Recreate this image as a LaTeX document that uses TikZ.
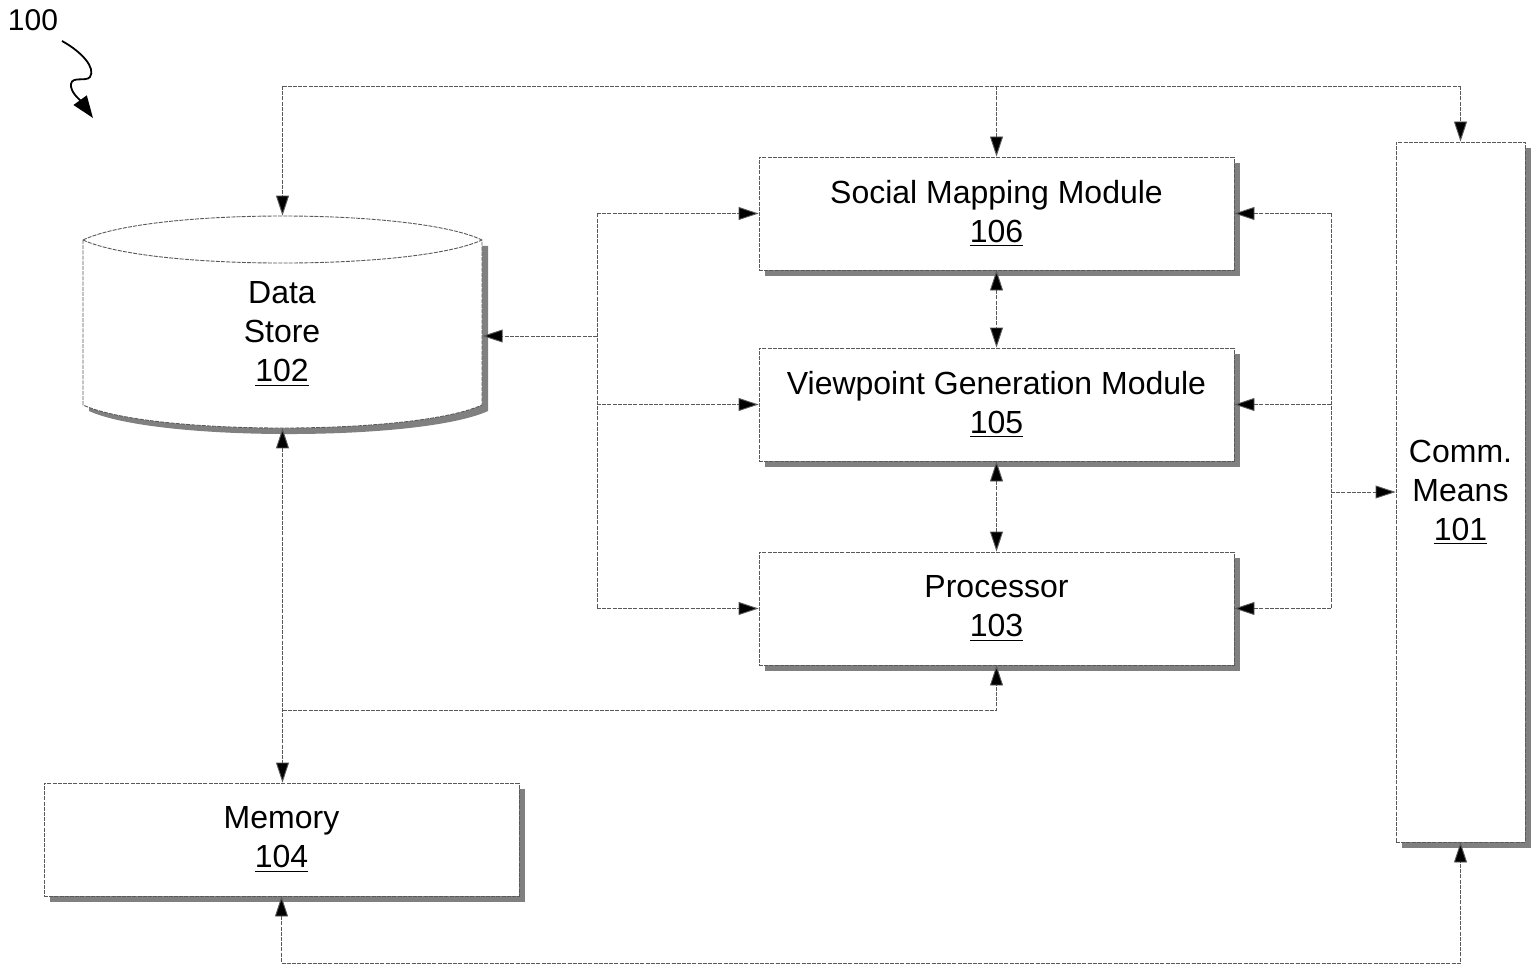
\documentclass[tikz,border=0pt]{standalone}
\usepackage{fontspec}
\setmainfont{Liberation Sans}
\usetikzlibrary{arrows.meta,shadows}
\begin{document}
\begin{tikzpicture}[x=0.5pt,y=-0.5pt,
  conn/.style={draw=black!65,line width=0.45pt,dash pattern=on 2pt off 0.6pt},
  arr/.style={conn,-{Triangle[length=10pt,width=6.5pt,fill=black]}},
  arrtwo/.style={conn,{Triangle[length=10pt,width=6.5pt,fill=black]}-{Triangle[length=10pt,width=6.5pt,fill=black]}},
  txt/.style={font=\fontsize{16}{19.5}\selectfont,align=center,text=black},
  blockbox/.style={txt,draw=black!65,line width=0.45pt,dash pattern=on 2pt off 0.6pt,fill=white,
     inner sep=0pt,drop shadow={shadow xshift=3pt,shadow yshift=-3pt,fill=black!50,opacity=1}},
]
\useasboundingbox[fill=white] (0,0) rectangle (1536,968);

% label 100
\node[txt,font=\fontsize{15}{18}\selectfont] (lbl) at (33,20) {100};
\draw[black,line width=0.9pt,-{Triangle[length=11pt,width=8pt]}]
  (62,41) .. controls (82,52) and (96,68) .. (90,77)
  .. controls (86,82) and (72,76) .. (71,84)
  .. controls (70,92) and (80,100) .. (93,118);

% data store cylinder
\node[minimum width=399.5pt/2,minimum height=212pt/2,inner sep=0pt] (ds) at (282.5,322) {};
\fill[black!50,xshift=3pt,yshift=-3pt] (83,240) -- (83,405) .. controls (150,435.7) and (415,435.7) .. (482,405) -- (482,240) -- cycle;
\path[conn,fill=white] (83,240) -- (83,405) .. controls (150,435.7) and (415,435.7) .. (482,405) -- (482,240)
  .. controls (415,208) and (150,208) .. (83,240) -- cycle;
\draw[conn] (83,240) .. controls (150,270.7) and (415,270.7) .. (482,240);
\node[txt] (dslabel) at (282,334) {Data\\Store\\\underline{102}};

% blocks
\node[blockbox,minimum width=475pt/2,minimum height=113pt/2] (smm) at (996.5,213.5) {Social Mapping Module\\\underline{106}};
\node[blockbox,minimum width=475pt/2,minimum height=113pt/2] (vgm) at (996.5,404.5) {Viewpoint Generation Module\\\underline{105}};
\node[blockbox,minimum width=475pt/2,minimum height=113pt/2] (proc) at (996.5,608.5) {Processor\\\underline{103}};
\node[blockbox,minimum width=129pt/2,minimum height=700pt/2] (comm) at (1460.5,492) {Comm.\\Means\\\underline{101}};
\node[blockbox,minimum width=475pt/2,minimum height=113pt/2] (mem) at (281.5,839.5) {Memory\\\underline{104}};

% top bus
\coordinate (tl) at (282.5,86);
\coordinate (tr) at (1460.5,86);
\draw[conn] (tl) -- (tr);
\draw[arr] (tl) -- (ds.north);
\draw[arr] (tl -| smm.north) -- (smm.north);
\draw[arr] (tr) -- (comm.north);

% left bus
\coordinate (lbt) at (597,213.5);
\coordinate (lbb) at (597,608.5);
\coordinate (lbm) at (597,336);
\draw[conn] (lbt) -- (lbb);
\draw[arr] (lbt) -- (smm.west);
\draw[arr] (lbt |- vgm.west) -- (vgm.west);
\draw[arr] (lbb) -- (proc.west);
\draw[arr] (lbm) -- (lbm -| ds.east);

% right bus
\coordinate (rbt) at (1331,213.5);
\coordinate (rbb) at (1331,608.5);
\draw[conn] (rbt) -- (rbb);
\draw[arr] (rbt) -- (smm.east);
\draw[arr] (rbt |- vgm.east) -- (vgm.east);
\draw[arr] (rbb) -- (proc.east);
\draw[arr] (rbt |- comm.west) -- (comm.west);

% vertical links between modules
\draw[arrtwo] (smm.south) -- (vgm.north);
\draw[arrtwo] (vgm.south) -- (proc.north);

% data store - memory - processor
\coordinate (jn) at (282.5,710);
\draw[arrtwo] (ds.south) -- (ds.south |- mem.north);
\draw[arr] (jn) -| (proc.south);

% bottom loop
\coordinate (bl) at (282,963);
\draw[arrtwo] (mem.south) -- (mem.south |- bl) -| (comm.south);
\end{tikzpicture}
\end{document}
